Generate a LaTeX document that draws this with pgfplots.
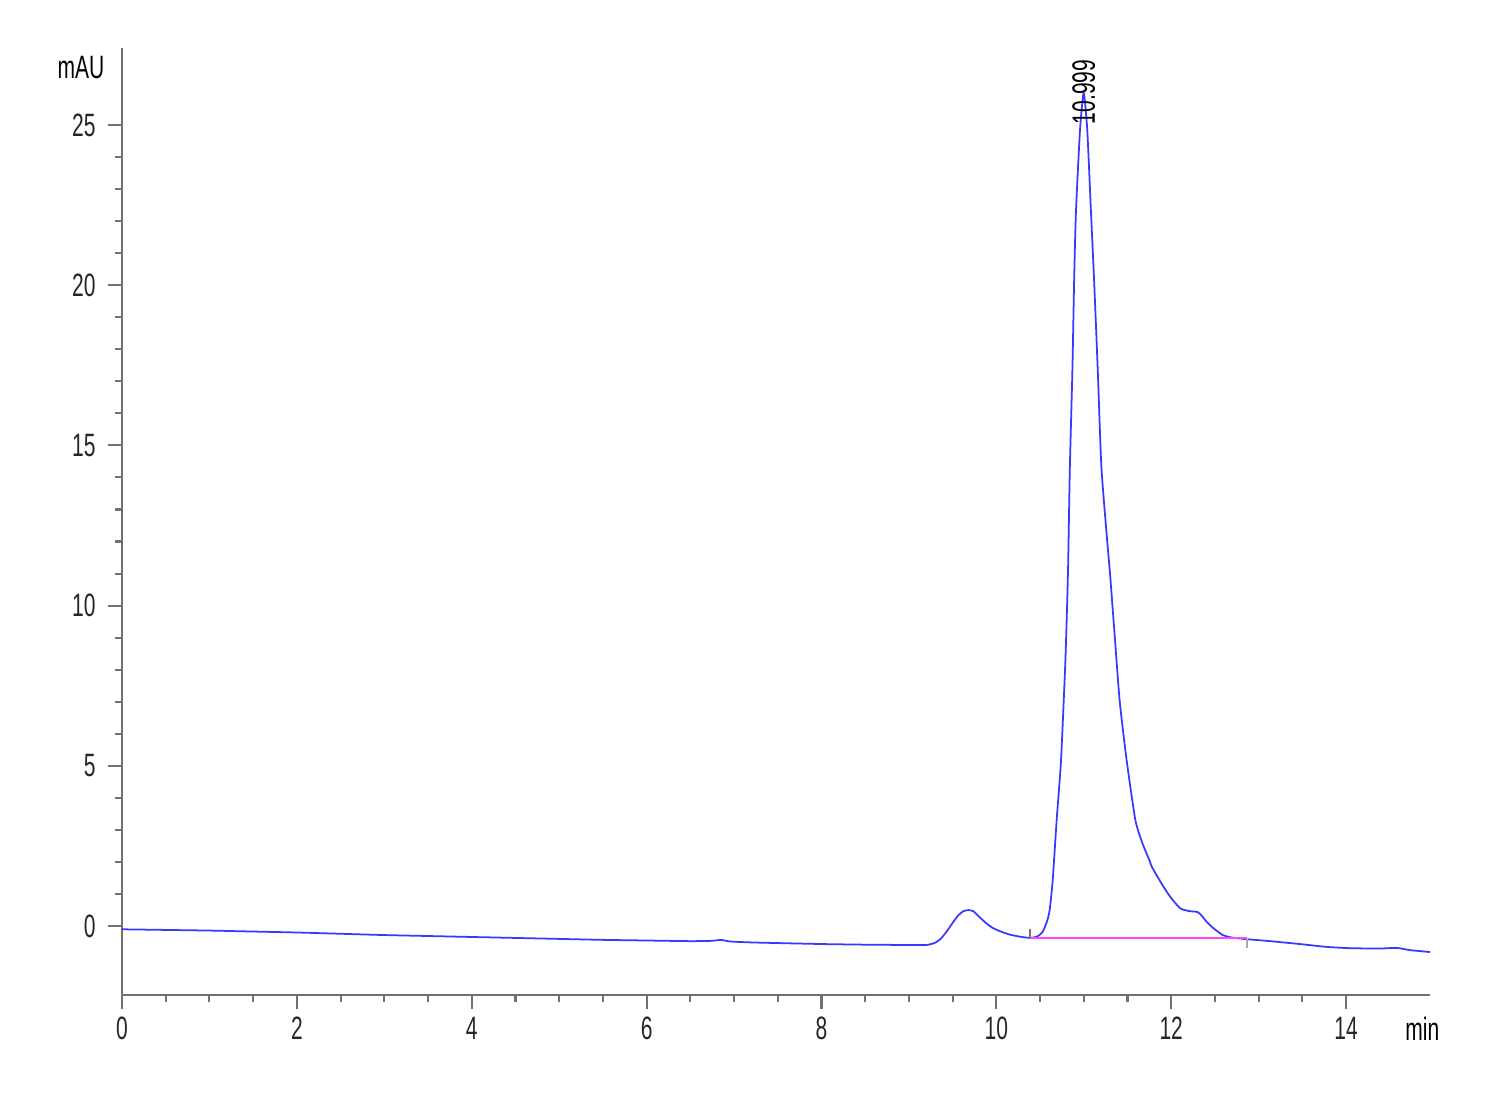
\documentclass[border=0pt]{standalone}
\usepackage{fontspec}
\setmainfont[FakeStretch=0.65]{Liberation Sans}
\usepackage{pgfplots}
\pgfplotsset{compat=1.18}
\definecolor{axgray}{HTML}{707070}
\definecolor{trace}{HTML}{3838FF}
\definecolor{bline}{HTML}{FF44FF}

\begin{document}
\begin{tikzpicture}
\begin{axis}[
  scale only axis, width=13.08cm, height=9.47cm,
  xmin=0, xmax=14.96, ymin=-2.15, ymax=27.4,
  axis x line*=bottom, axis y line*=left,
  axis line style={axgray, line width=0.6pt, -},
  tick style={axgray, line width=0.6pt},
  tick align=outside,
  major tick length=1.4mm, minor tick length=0.75mm,
  xtick={0,2,...,14}, minor x tick num=3,
  ytick={0,5,...,25}, minor y tick num=4,
  /pgf/number format/assume math mode=true,
  every tick label/.append style={font=\fontsize{9.2}{10}\selectfont, color=black!85},
  xticklabel style={yshift=0.4mm},
  clip=false,
]
\addplot[trace, line width=0.5pt, smooth, tension=0.35] coordinates {
 (0,-0.10)(0.5,-0.12)(1,-0.14)(1.5,-0.17)(2,-0.20)(2.5,-0.24)(3,-0.28)(3.5,-0.31)
 (4,-0.34)(4.5,-0.37)(5,-0.40)(5.5,-0.43)(6,-0.45)(6.5,-0.47)(6.75,-0.46)(6.85,-0.43)
 (6.95,-0.48)(7.2,-0.51)(7.5,-0.53)(8,-0.56)(8.5,-0.58)(9,-0.59)(9.2,-0.59)(9.3,-0.52)
 (9.37,-0.38)(9.44,-0.14)(9.5,0.10)(9.56,0.32)(9.62,0.46)(9.68,0.50)(9.74,0.46)(9.8,0.30)
 (9.88,0.10)(9.96,-0.06)(10.06,-0.18)(10.16,-0.27)(10.27,-0.33)(10.39,-0.37)(10.47,-0.32)
 (10.53,-0.18)(10.58,0.15)(10.61,0.50)(10.645,1.44)(10.69,3.31)(10.74,5.18)(10.79,8.3)
 (10.82,11.1)(10.84,14.2)(10.87,17.35)(10.89,20.16)(10.91,22.25)(10.957,24.84)(10.999,26.0)
 (11.04,24.84)(11.083,22.25)(11.118,20.16)(11.16,17.35)(11.20,14.4)(11.25,12.6)(11.30,11.0)
 (11.35,9.2)(11.41,7.05)(11.49,5.18)(11.59,3.31)(11.67,2.59)(11.75,2.06)(11.78,1.84)
 (11.90,1.28)(11.99,0.91)(12.10,0.56)(12.2,0.47)(12.3,0.44)(12.35,0.32)(12.41,0.12)
 (12.48,-0.06)(12.59,-0.28)(12.7,-0.36)(12.87,-0.41)(13.13,-0.47)(13.47,-0.56)
 (13.78,-0.65)(14.05,-0.69)(14.39,-0.70)(14.58,-0.68)(14.73,-0.75)(14.96,-0.81)};
% integration baseline and its start/end marks
\addplot[bline, line width=0.7pt] coordinates {(10.39,-0.37)(12.87,-0.37)};
\addplot[axgray, line width=0.6pt] coordinates {(10.39,-0.37)(10.39,-0.10)};
\addplot[axgray!60, line width=0.6pt] coordinates {(12.87,-0.37)(12.87,-0.68)};
\node[rotate=90, anchor=west, inner sep=0pt, font=\fontsize{9.2}{10}\selectfont]
  at (axis cs:10.999,25.0) {10.999};
\node[anchor=east, inner sep=0pt, font=\fontsize{9.2}{10}\selectfont]
  at ([xshift=-1.7mm]axis cs:0,26.8) {mAU};
\node[anchor=west, inner sep=0pt, font=\fontsize{9.2}{10}\selectfont]
  at ([yshift=-3.4mm]axis cs:14.67,-2.15) {min};
\coordinate (ll) at (rel axis cs:0,0);
\end{axis}
\path (ll) ++(-1.22cm,-1.05cm) rectangle ++(15cm,11cm);
\end{tikzpicture}
\end{document}
